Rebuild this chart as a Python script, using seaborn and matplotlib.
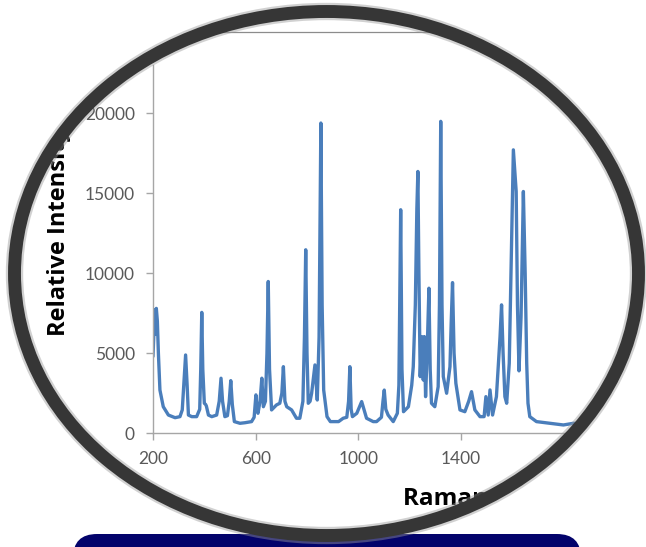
import numpy as np
import matplotlib
matplotlib.use("Agg")
import matplotlib.pyplot as plt
from matplotlib.patches import Ellipse, PathPatch, FancyBboxPatch
from matplotlib.path import Path
import seaborn as sns

# Raman spectrum (shift in cm-1, relative intensity)
raman_shift = [
    200, 204, 207, 210, 213, 217, 221, 227, 240, 260, 286, 305, 314, 320, 327, 333, 338, 351,
    370, 382, 386, 390, 394, 400, 405, 408, 416, 429, 448, 458, 465, 471, 480, 490, 497, 503,
    509, 517, 539, 558, 584, 594, 601, 606, 609, 617, 624, 630, 638, 644, 649, 654, 662, 681,
    694, 702, 708, 714, 721, 740, 759, 772, 784, 790, 795, 800, 805, 812, 818, 831, 840, 847,
    854, 859, 865, 878, 891, 923, 941, 955, 962, 967, 972, 977, 994, 1013, 1032, 1058, 1071,
    1090, 1096, 1101, 1107, 1116, 1136, 1152, 1158, 1165, 1170, 1176, 1195, 1208, 1214, 1222,
    1228, 1232, 1236, 1241, 1247, 1253, 1257, 1262, 1268, 1275, 1280, 1285, 1298, 1311, 1316,
    1321, 1326, 1331, 1344, 1357, 1362, 1367, 1373, 1380, 1396, 1415, 1430, 1441, 1454, 1474,
    1490, 1497, 1506, 1513, 1523, 1538, 1552, 1558, 1564, 1571, 1578, 1588, 1597, 1604, 1615,
    1620, 1626, 1634, 1643, 1650, 1656, 1661, 1668, 1694, 1747, 1799, 1838, 1880, 1920,
]
intensity = [
    4800, 6500, 7700, 6200, 7800, 7000, 5000, 2700, 1660, 1140, 975, 1040, 1460, 3000, 4890, 3000, 1140, 1040,
    1040, 1500, 4000, 7550, 4000, 1875, 1800, 1700, 1140, 1040, 1140, 2000, 3440, 2000, 1040, 1100, 2000, 3290,
    1800, 730, 625, 660, 730, 1000, 2400, 1400, 1250, 2000, 3440, 1660, 2000, 5000, 9480, 4000, 1460, 1770,
    1875, 2500, 4160, 2000, 1660, 1460, 940, 940, 2000, 6000, 11460, 5000, 1875, 2000, 2500, 4270, 2080, 6000,
    19375, 8000, 2700, 1040, 730, 730, 940, 1000, 2000, 4160, 1500, 1040, 1250, 1980, 940, 730, 730,
    1000, 2000, 2700, 1500, 1140, 730, 1250, 3000, 13960, 4000, 1350, 1660, 3000, 4160, 8000,
    14000, 16350, 10000, 3540, 6040, 3330, 6040, 2290, 5000, 9060, 4000, 1875, 1660, 2910, 8000,
    19480, 8000, 3540, 2500, 4160, 7000, 9410, 5000, 3125, 1460, 1350, 2000, 2600, 1460, 1040,
    1040, 2290, 1140, 2710, 1140, 2290, 6000, 8020, 5000, 2290, 1875, 4375, 12000, 17700, 15100,
    8000, 3900, 7290, 15100, 10000, 4375, 1875, 1040, 730, 625, 520, 625, 560, 560,
]
x_ticks = [200, 600, 1000, 1400, 1800]
y_ticks = [0, 5000, 10000, 15000, 20000]

sns.set_style("white")
plt.rcParams['font.family'] = ['Lato', 'DejaVu Sans']

W, H = 646, 547
fig = plt.figure(figsize=(W / 100, H / 100), dpi=100)

# main chart, placed in pixel terms
ax = fig.add_axes([153 / W, (H - 433.3) / H, 462 / W, 368.3 / H])
sns.lineplot(x=raman_shift, y=intensity, ax=ax, color='#4a7ebb', lw=2.4)
ax.set_xlim(200, 2000)
ax.set_ylim(0, 23000)
ax.set_xticks(x_ticks)
ax.set_yticks(y_ticks)
ax.tick_params(axis='both', direction='out', length=5, width=1, color='#a6a6a6',
               labelsize=12.5, labelcolor='#595959', pad=8, bottom=True, left=True)
for side in ['top', 'right']:
    ax.spines[side].set_visible(False)
for side in ['left', 'bottom']:
    ax.spines[side].set_color('#a6a6a6')
    ax.spines[side].set_linewidth(1)
ax.set_xlabel('')
ax.set_ylabel('')

fig.text(59 / W, 1 - 336 / H, 'Relative Intensity', rotation=90, ha='center', va='bottom',
         fontsize=17, fontweight='bold', color='black', family=['Open Sans', 'DejaVu Sans'])
fig.text(403 / W, 1 - 505 / H, 'Raman Shift (cm-1)', ha='left', va='baseline',
         fontsize=17.5, fontweight='bold', color='black', family=['Open Sans', 'DejaVu Sans'])

# overlay: oval frame, white mask outside it, navy banner
ov = fig.add_axes([0, 0, 1, 1], zorder=5)
ov.set_xlim(0, W)
ov.set_ylim(H, 0)
ov.axis('off')
ov.patch.set_visible(False)

cx, cy, ew, eh = 326.5, 273.5, 624, 524
ov.plot([0, W], [32, 32], color='#8c8c8c', lw=0.9, zorder=1)

t = np.linspace(0, 2 * np.pi, 500)
ell = np.column_stack([cx + ew / 2 * np.cos(t), cy + eh / 2 * np.sin(t)])[::-1]
rect = np.array([[-20, -20], [W + 20, -20], [W + 20, H + 20], [-20, H + 20], [-20, -20]])
verts = np.vstack([rect, ell, ell[:1]])
codes = ([Path.MOVETO] + [Path.LINETO] * 3 + [Path.CLOSEPOLY]
         + [Path.MOVETO] + [Path.LINETO] * (len(ell) - 1) + [Path.CLOSEPOLY])
ov.add_patch(PathPatch(Path(verts, codes), facecolor='white', edgecolor='none', zorder=2))

ov.add_patch(FancyBboxPatch((73, 534), 508, 60, boxstyle='round,pad=0,rounding_size=24',
                            facecolor='#03036b', edgecolor='none', zorder=3))

ov.add_patch(Ellipse((cx, cy), ew, eh, fill=False, edgecolor='#9a9a9a', lw=12.5, alpha=0.45, zorder=4))
ov.add_patch(Ellipse((cx, cy), ew, eh, fill=False, edgecolor='#363636', lw=9.3, zorder=5))

fig.savefig('out.png', dpi=100)
